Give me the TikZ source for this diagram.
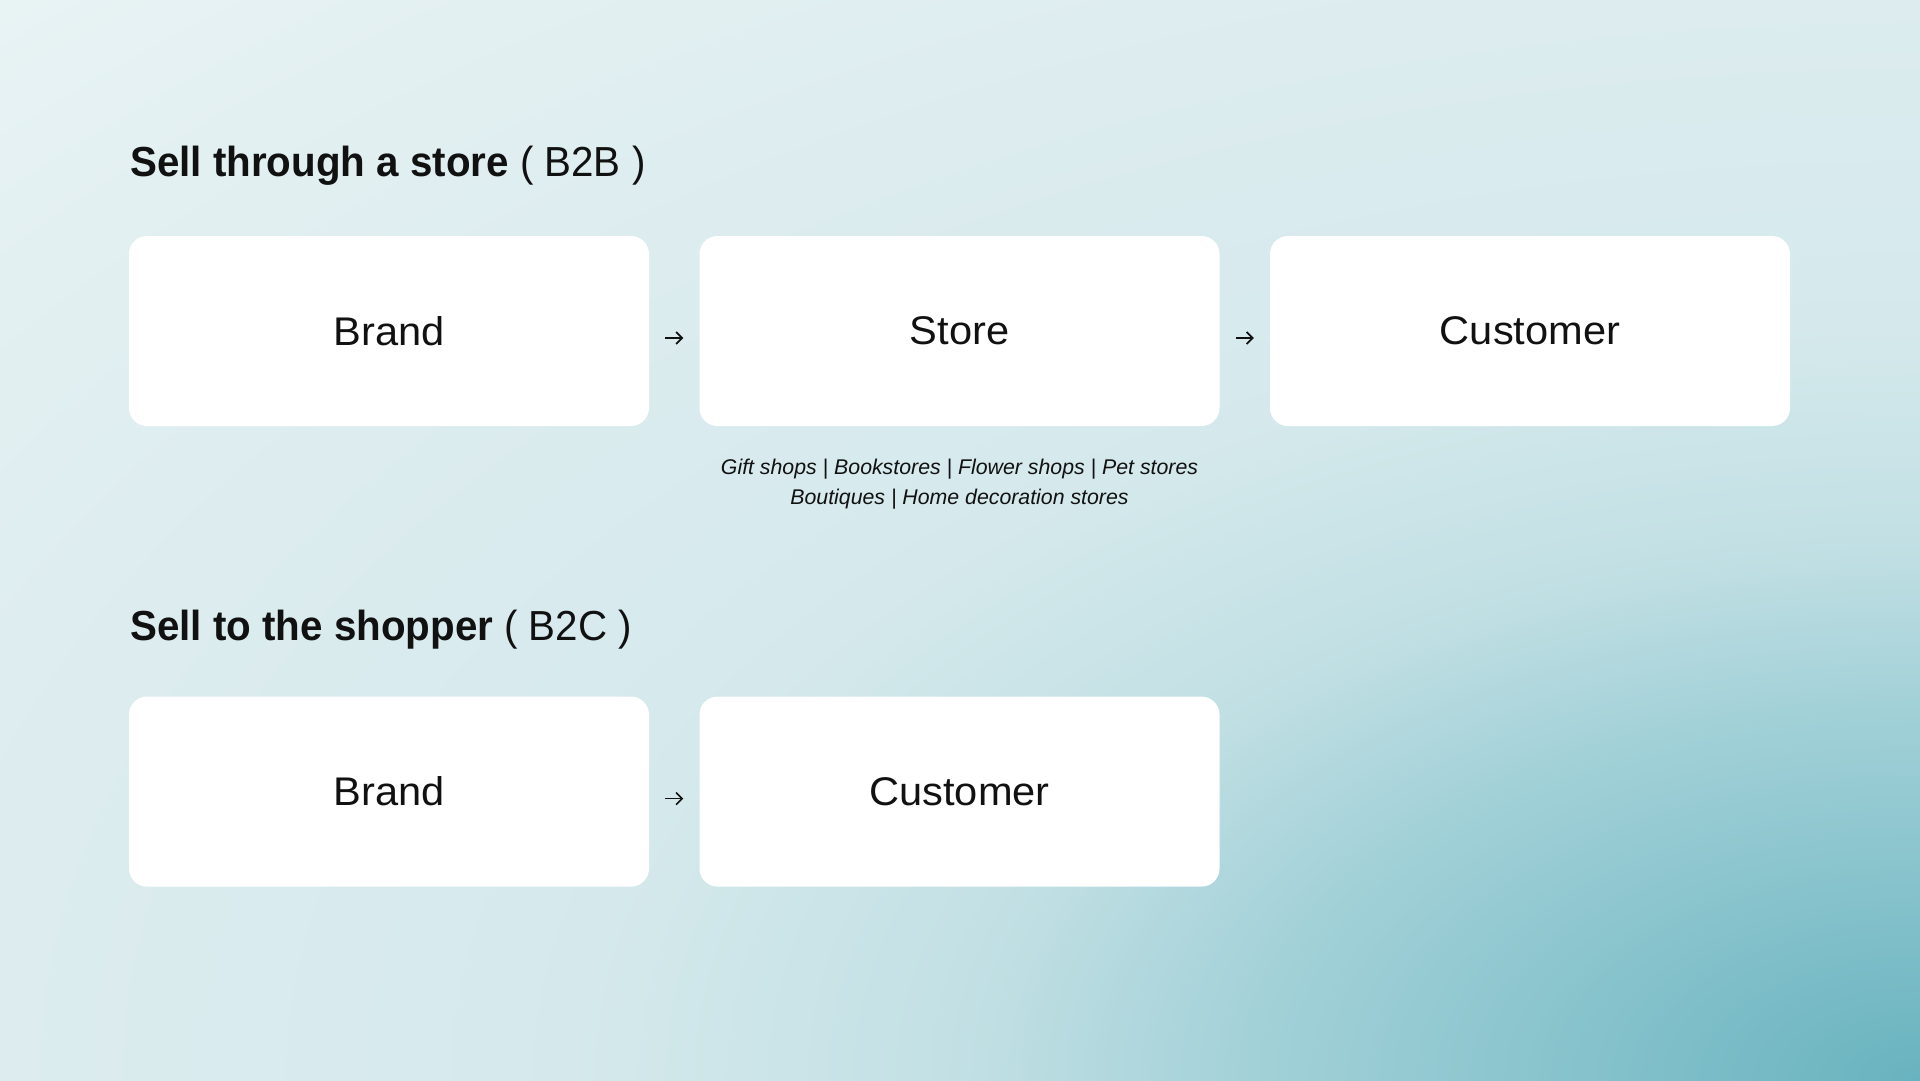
\documentclass[tikz,border=0pt]{standalone}
\usepackage{fontspec}
\setmainfont{Liberation Sans}
\newfontfamily\headfont[FakeStretch=0.96]{Liberation Sans}
\newfontfamily\cardfont[FakeStretch=1.04]{Liberation Sans}
\usetikzlibrary{positioning, arrows.meta}

\definecolor{ink}{HTML}{111111}
\definecolor{glow0}{HTML}{68B3BF}
\definecolor{glow1}{HTML}{A3D1D8}
\definecolor{glow2}{HTML}{C2E0E4}
\definecolor{glow3}{HTML}{D5E9EC}
\definecolor{glow4}{HTML}{DCECEF}
\definecolor{glow5}{HTML}{E8F3F4}
\pgfdeclareradialshading{tealglow}{\pgfpoint{0bp}{0bp}}{%
  color(0bp)=(glow0); color(6.2bp)=(glow1); color(8.84bp)=(glow2);
  color(12.4bp)=(glow3); color(17.7bp)=(glow4); color(25bp)=(glow5); color(50bp)=(glow5)}

\begin{document}
\begin{tikzpicture}[x=1pt, y=-1pt,
    card/.style={rectangle, rounded corners=18pt, fill=white, minimum width=520pt,
        minimum height=190pt, inner sep=0pt, text=ink, font=\cardfont\fontsize{40}{48}\selectfont},
    heading/.style={anchor=base west, inner sep=0pt, text=ink, font=\headfont\fontsize{42}{50}\selectfont},
    flow/.style={-{Straight Barb[length=6pt, width=12pt]}, line width=1.7pt, draw=ink}]
    % Background
    \useasboundingbox (0,0) rectangle (1920,1080);
    \begin{scope}
        \clip (0,0) rectangle (1920,1080);
        \shade[shading=tealglow] (-795,-447) rectangle (4635,2607);
    \end{scope}
    % Headings
    \node[heading] (B2B-title) at (130,176) {\textbf{Sell through a store} ( B2B )};
    \node[heading] (B2C-title) at (130,640) {\textbf{Sell to the shopper} ( B2C )};
    % B2B Row
    \foreach \name/\i in {Brand/1,Store/2,Customer/3} {
        \node[card] (B2B-\i) at (389+570.5*\i-570.5,331) {\name};
    }
    \node[below=33pt of B2B-2, align=center, inner sep=0pt, text=ink,
        font=\itshape\fontsize{21.3}{30}\selectfont] (B2B-note)
        {Gift shops | Bookstores | Flower shops | Pet stores\\Boutiques | Home decoration stores};
    % B2C Row
    \foreach \name/\i in {Brand/1,Customer/2} {
        \node[card] (B2C-\i) at (389+570.5*\i-570.5,791.6) {\name};
    }
    % Arrows
    \foreach \i/\j in {1/2,2/3} {
        \draw[flow] ([xshift=16pt, yshift=-7pt]B2B-\i.east) -- ([xshift=-16pt, yshift=-7pt]B2B-\j.west);
    }
    \draw[flow] ([xshift=16pt, yshift=-7pt]B2C-1.east) -- ([xshift=-16pt, yshift=-7pt]B2C-2.west);
\end{tikzpicture}
\end{document}
